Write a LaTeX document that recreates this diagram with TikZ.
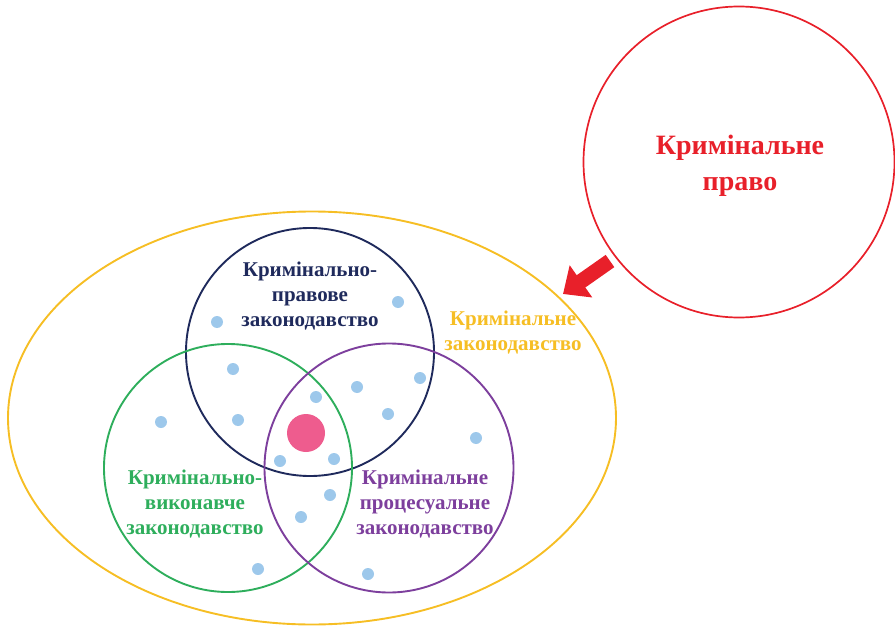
\documentclass[tikz,border=0pt]{standalone}
\usepackage{fontspec}
\setmainfont{Liberation Serif}
\usetikzlibrary{shapes.geometric,arrows.meta}
\definecolor{cred}{HTML}{E8202A}
\definecolor{cnavy}{HTML}{1F2A5C}
\definecolor{cgreen}{HTML}{2EAE5C}
\definecolor{cpurple}{HTML}{7D3F9D}
\definecolor{cyellow}{HTML}{F6BE24}
\definecolor{cdot}{HTML}{9DC8EB}
\definecolor{cpink}{HTML}{EE5C8E}
\tikzset{
  ring/.style={circle,draw,line width=1.9pt,inner sep=0pt},
  lbl/.style={align=center,font=\bfseries\fontsize{21}{25}\selectfont,inner sep=0pt},
  bdot/.style={circle,fill=cdot,inner sep=0pt,minimum size=12pt},
}
\begin{document}
\begin{tikzpicture}[x=1pt,y=-1pt]
\useasboundingbox (0,0) rectangle (895,626);
% outer ellipse
\node[ellipse,draw=cyellow,line width=1.9pt,minimum width=608pt,minimum height=413pt,inner sep=0pt] (law) at (312,418) {};
% red circle
\node[ring,draw=cred,line width=1.7pt,minimum size=311pt] (cp) at (739,162) {};
\node[lbl,text=cred,font=\bfseries\fontsize{28}{36}\selectfont] (cpt) at (740,166) {Кримінальне\\право};
% three circles
\node[ring,draw=cnavy,minimum size=248pt] (nav) at (310,352) {};
\node[ring,draw=cgreen,minimum size=248pt] (grn) at (228,468) {};
\node[ring,draw=cpurple,minimum size=249pt] (pur) at (389,468) {};
% labels
\node[lbl,text=cnavy] (navt) at (310,296) {Кримінально-\\правове\\законодавство};
\node[lbl,text=cyellow] (lawt) at (513,333) {Кримінальне\\законодавство};
\node[lbl,text=cgreen] (grnt) at (195,504) {Кримінально-\\виконавче\\законодавство};
\node[lbl,text=cpurple] (purt) at (425,504) {Кримінальне\\процесуальне\\законодавство};
% centre
\node[circle,fill=cpink,inner sep=0pt,minimum size=38pt] (core) at (306,433) {};
% dots
\foreach \i/\p in {1/{(217,322)},2/{(398,302)},3/{(233,369)},4/{(357,387)},5/{(420,378)},6/{(161,422)},7/{(238,420)},8/{(316,397)},9/{(388,414)},10/{(476,438)},11/{(280,461)},12/{(334,459)},13/{(330,495)},14/{(301,517)},15/{(258,569)},16/{(368,574)}}
  \node[bdot] (d\i) at \p {};
% arrow
\coordinate (atail) at (610,261);
\coordinate (ahead) at (563,294);
\draw[cred,line width=15pt,-{Triangle[length=22pt,width=38pt]}] (atail) -- (ahead);
\end{tikzpicture}
\end{document}
